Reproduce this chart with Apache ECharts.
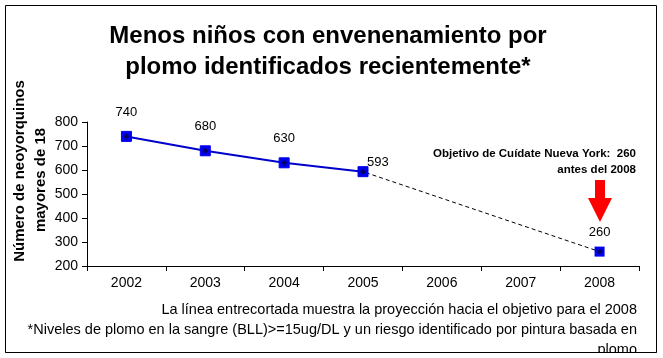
<!DOCTYPE html>
<html><head><meta charset="utf-8">
<script src="https://cdn.jsdelivr.net/npm/echarts@6/dist/echarts.min.js"></script>
<style>html,body{margin:0;padding:0;background:#fff}#c{width:663px;height:358px}</style>
</head><body><div id="c"></div>
<script>
const years = ['2002','2003','2004','2005','2006','2007','2008'];
const actual = [740, 680, 630, 593, null, null, null];
const projection = [null, null, null, 593, null, null, 260];
const target = [null, null, null, null, null, null, 260];
const yTicks = {min: 200, max: 800, interval: 100};

const allPoints = actual.map((v, i) => v != null ? v : target[i]);
const chart = echarts.init(document.getElementById('c'), null, {renderer: 'canvas'});
const F = 'Arial, "Liberation Sans", sans-serif';
chart.setOption({
  animation: false,
  backgroundColor: '#fff',
  grid: {left: 87, right: 24, top: 122, bottom: 92},
  xAxis: {
    type: 'category', data: years, boundaryGap: true,
    axisLine: {lineStyle: {color: '#000', width: 1}},
    axisTick: {show: true, length: 5, lineStyle: {color: '#000'}},
    axisLabel: {color: '#000', fontFamily: F, fontSize: 14, margin: 10}
  },
  yAxis: {
    type: 'value', min: yTicks.min, max: yTicks.max, interval: yTicks.interval,
    axisLine: {show: true, lineStyle: {color: '#000', width: 1}},
    axisTick: {show: true, length: 5, lineStyle: {color: '#000'}},
    axisLabel: {color: '#000', fontFamily: F, fontSize: 14, margin: 9},
    splitLine: {show: false}
  },
  series: [
    {
      type: 'line', data: projection, connectNulls: true, z: 1,
      symbol: 'none',
      lineStyle: {color: '#000', width: 1, type: [4, 3], dashOffset: 4}
    },
    {
      type: 'line', data: actual, z: 3,
      symbol: 'rect', symbolSize: 10,
      itemStyle: {color: '#0000ee', borderColor: '#0000ee', opacity: 1},
      lineStyle: {color: '#0000cc', width: 2},
      label: {show: true, position: 'top', distance: 12, color: '#000', fontFamily: F, fontSize: 13,
        formatter: p => (p.dataIndex === 3 ? '' : p.value)}
    },
    {
      type: 'scatter', data: actual.map((v, i) => i === 3 ? v : null), z: 2, symbolSize: 0,
      itemStyle: {opacity: 1},
      label: {show: true, position: 'right', offset: [-1, -9], color: '#000', fontFamily: F, fontSize: 13}
    },
    {
      type: 'scatter', data: target, z: 3,
      symbol: 'rect', symbolSize: 10,
      itemStyle: {color: '#0000ee', opacity: 1},
      label: {show: true, position: 'top', distance: 8, color: '#000', fontFamily: F, fontSize: 13}
    },
    {
      type: 'scatter', data: allPoints, z: 4,
      symbol: 'diamond', symbolSize: 6,
      itemStyle: {color: '#000066', opacity: 1}
    }
  ],
  graphic: [
    {type: 'rect', shape: {x: 5.5, y: 5.5, width: 651, height: 347}, style: {fill: null, stroke: '#000', lineWidth: 1}, silent: true},
    {type: 'text', x: 328, y: 21, style: {text: 'Menos niños con envenenamiento por\nplomo identificados recientemente*', font: 'bold 24px ' + F, fill: '#000', align: 'center', lineHeight: 31}},
    {type: 'text', x: 20, y: 171, rotation: Math.PI / 2, style: {text: 'Número de neoyorquinos', font: 'bold 15px ' + F, fill: '#000', align: 'center', verticalAlign: 'middle'}},
    {type: 'text', x: 41, y: 180, rotation: Math.PI / 2, style: {text: 'mayores de 18', font: 'bold 15px ' + F, fill: '#000', align: 'center', verticalAlign: 'middle'}},
    {type: 'text', x: 636, y: 146, style: {text: 'Objetivo de Cuídate Nueva York:  260\nantes del 2008', font: 'bold 11.5px ' + F, fill: '#000', align: 'right', lineHeight: 16}},
    {type: 'polygon', shape: {points: [[595,180],[605,180],[605,198],[612,198],[600,222],[588,198],[595,198]]}, style: {fill: '#ff0000'}},
    {type: 'text', x: 637, y: 302, style: {text: 'La línea entrecortada muestra la proyección hacia el objetivo para el 2008', font: '14.5px ' + F, fill: '#000', align: 'right'}},
    {type: 'text', x: 637, y: 322, style: {text: '*Niveles de plomo en la sangre (BLL)>=15ug/DL y un riesgo identificado por pintura basada en', font: '14.5px ' + F, fill: '#000', align: 'right'}},
    {type: 'text', x: 637, y: 342, style: {text: 'plomo', font: '14.5px ' + F, fill: '#000', align: 'right'}},
    {type: 'rect', shape: {x: 6, y: 353, width: 651, height: 5}, style: {fill: '#fff'}, silent: true},
    {type: 'line', shape: {x1: 5.5, y1: 352.5, x2: 656.5, y2: 352.5}, style: {stroke: '#000', lineWidth: 1}, silent: true}
  ]
});
</script></body></html>
